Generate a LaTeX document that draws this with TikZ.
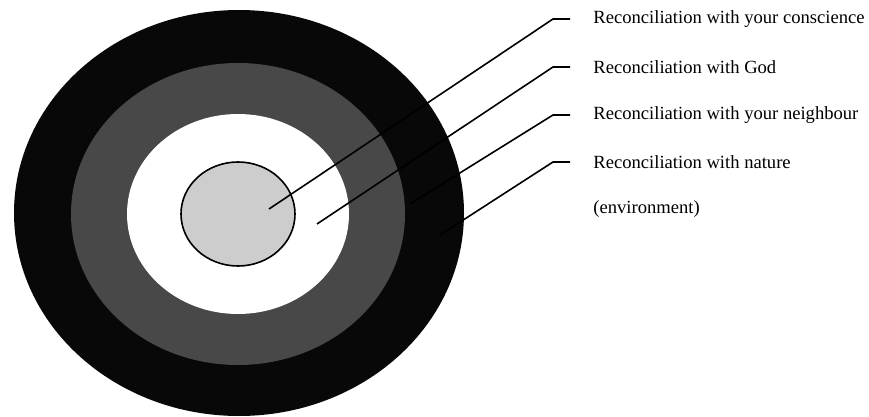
\documentclass[tikz,border=0pt]{standalone}
\usepackage{fontspec}
\setmainfont{Liberation Serif}
\definecolor{ringblack}{RGB}{8,8,8}
\definecolor{ringgray}{RGB}{72,72,72}
\definecolor{coregray}{RGB}{205,205,205}
\usetikzlibrary{shapes.geometric}

\begin{document}
\begin{tikzpicture}[x=0.5pt,y=-0.5pt]
  \useasboundingbox (0,0) rectangle (869,417);
  %% Concentric rings
  \node[ellipse,fill=ringblack,inner sep=0pt,
        minimum width=225pt,minimum height=203pt]
        (outer) at (239,213) {};
  \node[ellipse,fill=ringgray,inner sep=0pt,
        minimum width=167pt,minimum height=151pt]
        (mid) at (238,214) {};
  \node[ellipse,fill=white,inner sep=0pt,
        minimum width=111pt,minimum height=100pt]
        (inner) at (238,214) {};
  \node[ellipse,draw,line width=0.8pt,fill=coregray,inner sep=0pt,
        minimum width=57pt,minimum height=52pt]
        (core) at (238,214) {};

  %% Start and bend points of the leaders
  \coordinate (p1) at (269,209);
  \coordinate (p2) at (317,224);
  \coordinate (p3) at (410,204);
  \coordinate (p4) at (440,235);
  \coordinate (b1) at (553,19);
  \coordinate (b2) at (553,67);
  \coordinate (b3) at (553,115);
  \coordinate (b4) at (553,162);

  %% Labels
  \node[anchor=west,inner xsep=11.5pt,font=\fontsize{9.3}{11}\selectfont]
        (l1) at (570,19) {Reconciliation with your conscience};
  \node[anchor=west,inner xsep=11.5pt,font=\fontsize{9.3}{11}\selectfont]
        (l2) at (570,67) {Reconciliation with God};
  \node[anchor=west,inner xsep=11.5pt,font=\fontsize{9.3}{11}\selectfont]
        (l3) at (570,115) {Reconciliation with your neighbour};
  \node[anchor=west,inner xsep=11.5pt,font=\fontsize{9.3}{11}\selectfont]
        (l4) at (570,162) {Reconciliation with nature};
  \node[anchor=west,inner xsep=11.5pt,font=\fontsize{9.3}{11}\selectfont]
        (l5) at (570,209) {(environment)};

  %% Leaders
  \draw[line width=0.8pt] (p1) -- (b1) -- (l1.west);
  \draw[line width=0.8pt] (p2) -- (b2) -- (l2.west);
  \draw[line width=0.8pt] (p3) -- (b3) -- (l3.west);
  \draw[line width=0.8pt] (p4) -- (b4) -- (l4.west);
\end{tikzpicture}
\end{document}
